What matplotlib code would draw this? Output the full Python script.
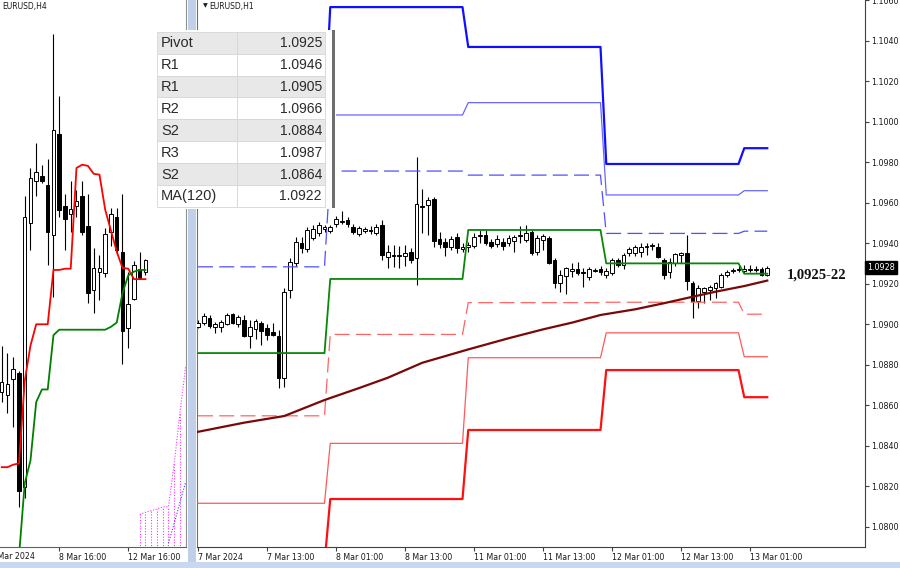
import numpy as np
import matplotlib
matplotlib.use('Agg')
import matplotlib.pyplot as plt
import matplotlib.transforms as mtransforms
from matplotlib.patches import Rectangle

# ---- H1 candles (EURUSD, 7 Mar 01:00 -> 13 Mar 04:00)
h1_open = [
    1.08987, 1.09006, 1.09031, 1.08987, 1.08987, 1.09002, 1.09051, 1.09002, 1.09021, 1.08942,
    1.08977, 1.09006, 1.08982, 1.08962, 1.08942, 1.08735, 1.09169, 1.09303, 1.09402, 1.09372,
    1.09426, 1.09451, 1.09469, 1.09461, 1.09495, 1.09505, 1.09515, 1.09481, 1.09446, 1.09461,
    1.09466, 1.09451, 1.09491, 1.09332, 1.09342, 1.09337, 1.09337, 1.09357, 1.09327, 1.09579,
    1.09589, 1.09619, 1.09422, 1.09407, 1.09382, 1.09431, 1.09372, 1.09382, 1.09387, 1.09436,
    1.09441, 1.09407, 1.09397, 1.09407, 1.09402, 1.09412, 1.09436, 1.09416, 1.09456, 1.09357,
    1.09416, 1.09426, 1.09318, 1.09204, 1.09238, 1.09263, 1.09273, 1.09258, 1.09233, 1.09263,
    1.09273, 1.09243, 1.09253, 1.09318, 1.09293, 1.09352, 1.09352, 1.09357, 1.09382, 1.09387,
    1.09382, 1.09318, 1.09258, 1.09303, 1.09342, 1.09352, 1.09204, 1.09115, 1.09159, 1.09169,
    1.09179, 1.09184, 1.09243, 1.09263, 1.09268, 1.09263, 1.09268, 1.09268, 1.09273, 1.09243]
h1_high = [
    1.09021, 1.09056, 1.09046, 1.09011, 1.09021, 1.09056, 1.09056, 1.09046, 1.09046, 1.09021,
    1.09026, 1.09016, 1.09002, 1.09006, 1.08972, 1.09179, 1.09327, 1.09431, 1.09431, 1.09481,
    1.09491, 1.09505, 1.09491, 1.09491, 1.09535, 1.09560, 1.09530, 1.09495, 1.09486, 1.09481,
    1.09486, 1.09495, 1.09515, 1.09392, 1.09392, 1.09387, 1.09392, 1.09377, 1.09826, 1.09668,
    1.09629, 1.09629, 1.09456, 1.09426, 1.09436, 1.09451, 1.09402, 1.09407, 1.09451, 1.09466,
    1.09466, 1.09422, 1.09441, 1.09426, 1.09441, 1.09441, 1.09486, 1.09491, 1.09466, 1.09441,
    1.09446, 1.09436, 1.09327, 1.09268, 1.09283, 1.09303, 1.09308, 1.09278, 1.09283, 1.09278,
    1.09288, 1.09278, 1.09327, 1.09327, 1.09352, 1.09382, 1.09392, 1.09402, 1.09402, 1.09402,
    1.09402, 1.09327, 1.09327, 1.09352, 1.09357, 1.09441, 1.09214, 1.09194, 1.09184, 1.09194,
    1.09209, 1.09253, 1.09268, 1.09278, 1.09288, 1.09293, 1.09293, 1.09288, 1.09283, 1.09288]
h1_low = [
    1.08982, 1.08997, 1.08982, 1.08957, 1.08962, 1.08997, 1.09002, 1.08987, 1.08937, 1.08883,
    1.08927, 1.08898, 1.08922, 1.08942, 1.08685, 1.08690, 1.09130, 1.09288, 1.09352, 1.09357,
    1.09416, 1.09436, 1.09456, 1.09451, 1.09481, 1.09495, 1.09481, 1.09446, 1.09436, 1.09451,
    1.09446, 1.09441, 1.09318, 1.09278, 1.09283, 1.09278, 1.09288, 1.09303, 1.09194, 1.09451,
    1.09441, 1.09382, 1.09377, 1.09337, 1.09367, 1.09352, 1.09357, 1.09357, 1.09377, 1.09402,
    1.09392, 1.09377, 1.09382, 1.09367, 1.09387, 1.09357, 1.09402, 1.09407, 1.09342, 1.09342,
    1.09367, 1.09298, 1.09179, 1.09159, 1.09149, 1.09233, 1.09243, 1.09184, 1.09219, 1.09258,
    1.09243, 1.09229, 1.09243, 1.09283, 1.09273, 1.09337, 1.09337, 1.09332, 1.09342, 1.09367,
    1.09327, 1.09224, 1.09229, 1.09288, 1.09303, 1.09169, 1.09031, 1.09080, 1.09105, 1.09120,
    1.09130, 1.09179, 1.09233, 1.09253, 1.09258, 1.09253, 1.09258, 1.09258, 1.09238, 1.09238]
h1_close = [
    1.09006, 1.09041, 1.08992, 1.09002, 1.09011, 1.09046, 1.09006, 1.09036, 1.08942, 1.08987,
    1.09016, 1.08967, 1.08947, 1.08947, 1.08735, 1.09159, 1.09308, 1.09407, 1.09377, 1.09466,
    1.09471, 1.09491, 1.09481, 1.09481, 1.09520, 1.09510, 1.09495, 1.09456, 1.09476, 1.09471,
    1.09461, 1.09481, 1.09342, 1.09357, 1.09337, 1.09342, 1.09352, 1.09318, 1.09594, 1.09584,
    1.09614, 1.09412, 1.09397, 1.09382, 1.09422, 1.09377, 1.09382, 1.09392, 1.09431, 1.09441,
    1.09402, 1.09387, 1.09422, 1.09387, 1.09426, 1.09431, 1.09441, 1.09451, 1.09352, 1.09426,
    1.09436, 1.09303, 1.09204, 1.09243, 1.09278, 1.09273, 1.09253, 1.09253, 1.09273, 1.09268,
    1.09258, 1.09263, 1.09318, 1.09293, 1.09342, 1.09372, 1.09382, 1.09382, 1.09387, 1.09392,
    1.09332, 1.09243, 1.09308, 1.09347, 1.09352, 1.09214, 1.09115, 1.09179, 1.09179, 1.09184,
    1.09204, 1.09243, 1.09258, 1.09268, 1.09273, 1.09273, 1.09273, 1.09273, 1.09243, 1.09280]

# ---- daily pivot levels (7, 8, 11, 12, 13 Mar) and H1 bars per day
day_bars = [23, 24, 24, 24, 5]
r3 = [1.1001, 1.10567, 1.10370, 1.09792, 1.0987]
r2 = [1.0961, 1.10034, 1.10095, 1.09639, 1.0966]
r1 = [1.09284, 1.09757, 1.09737, 1.09449, 1.0946]
pivot = [1.08858, 1.09224, 1.09466, 1.09301, 1.0925]
s1 = [1.08548, 1.08950, 1.09107, 1.09109, 1.0905]
s2 = [1.08116, 1.08412, 1.08835, 1.08958, 1.0884]
s3 = [1.0782, 1.08137, 1.08478, 1.08774, 1.0864]

# ---- MA(120) read at some bars
ma_bar = [0, 8, 15, 22, 28, 33, 39, 47, 54, 60, 65, 70, 76, 81, 86, 90, 95, 99]
ma_val = [1.08469, 1.08514, 1.08547, 1.08626, 1.08685, 1.08736, 1.08810, 1.08876, 1.08931,
          1.08975, 1.09008, 1.09046, 1.09074, 1.09104, 1.09136, 1.09161, 1.09189, 1.09216]

price_ticks = [1.0800, 1.0820, 1.0840, 1.0860, 1.0880, 1.0900, 1.0920, 1.0940,
               1.0960, 1.0980, 1.1000, 1.1020, 1.1040, 1.1060]
h1_tick_bar = [0, 12, 24, 36, 48, 60, 72, 84, 96]
h1_tick_labels = ['7 Mar 2024', '7 Mar 13:00', '8 Mar 01:00', '8 Mar 13:00', '11 Mar 01:00',
                  '11 Mar 13:00', '12 Mar 01:00', '12 Mar 13:00', '13 Mar 01:00']

# ---- H4 candles (7 Mar 00:00 -> 13 Mar 04:00)
h4_open = [1.08964, 1.08957, 1.08996, 1.09009, 1.08736, 1.09369, 1.09469, 1.09480, 1.09460,
           1.09339, 1.09581, 1.09408, 1.09389, 1.09408, 1.09434, 1.09360, 1.09209, 1.09250,
           1.09248, 1.09347, 1.09382, 1.09300, 1.09118, 1.09187, 1.09259, 1.09250]
h4_high = [1.09074, 1.09057, 1.09048, 1.09015, 1.09434, 1.09499, 1.09560, 1.09508, 1.09521,
           1.09820, 1.09672, 1.09438, 1.09469, 1.09447, 1.09469, 1.09438, 1.09308, 1.09291,
           1.09356, 1.09404, 1.09404, 1.09438, 1.09252, 1.09278, 1.09300, 1.09282]
h4_low = [1.08940, 1.08914, 1.08879, 1.08689, 1.08710, 1.09304, 1.09434, 1.09464, 1.09269,
          1.09191, 1.09382, 1.09304, 1.09347, 1.09382, 1.09340, 1.09178, 1.09152, 1.09183,
          1.09239, 1.09313, 1.09295, 1.09031, 1.09070, 1.09183, 1.09234, 1.09243]
h4_close = [1.08988, 1.08983, 1.09018, 1.08728, 1.09382, 1.09477, 1.09490, 1.09469, 1.09347,
            1.09590, 1.09399, 1.09378, 1.09401, 1.09421, 1.09347, 1.09200, 1.09261, 1.09261,
            1.09343, 1.09391, 1.09304, 1.09109, 1.09174, 1.09269, 1.09236, 1.09281]
tenkan = [1.08784, 1.08784, 1.08790, 1.08793, 1.08990, 1.09075, 1.09126, 1.09126, 1.09126,
          1.09256, 1.09256, 1.09259, 1.09259, 1.09500, 1.09508, 1.09505, 1.09486, 1.09484,
          1.09400, 1.09350, 1.09300, 1.09261, 1.09259, 1.09234, 1.09234, 1.09234]
kijun_bar = list(range(2, 26))
kijun = [1.0850, 1.0857, 1.08745, 1.0880, 1.0894, 1.08970, 1.08970, 1.09100, 1.09113, 1.09113,
         1.09113, 1.09113, 1.09113, 1.09113, 1.09113, 1.09113, 1.09113, 1.09120, 1.09130,
         1.09200, 1.09243, 1.09252, 1.09256, 1.09256]
cloud_bar = [24, 25, 26, 27, 28, 29, 30, 31, 32]
span_a = [1.08671, 1.08676, 1.08680, 1.08684, 1.08689, 1.08689, 1.08793, 1.08914, 1.09027]
span_b = [1.0855, 1.0855, 1.0855, 1.0855, 1.0855, 1.0855, 1.0855, 1.0855, 1.0855]
blue_bar = [29, 30, 31, 32]
blue_span = [1.08602, 1.08650, 1.08700, 1.08749]
h4_tick_bar = [10, 22]
h4_tick_labels = ['8 Mar 16:00', '12 Mar 16:00']

table_labels = ['Pivot', 'R1', 'R1', 'R2', 'S2', 'R3', 'S2', 'MA(120)']
table_values = ['1.0925', '1.0946', '1.0905', '1.0966', '1.0884', '1.0987', '1.0864', '1.0922']

W, H = 900, 568
TXT = '#1a1a1a'
fig = plt.figure(figsize=(9, 5.68), dpi=100)


def fx(x):
    return x / W


def fy(y):
    return 1 - y / H


def draw_candles(ax, o, h, l, c, width):
    o, h, l, c = map(np.asarray, (o, h, l, c))
    x = np.arange(len(o))
    ax.vlines(x, l, h, color='black', lw=0.8, zorder=2)
    up = c >= o
    body = np.maximum(np.abs(c - o), 0.00002)
    bottom = np.minimum(o, c)
    ax.bar(x[up], body[up], bottom=bottom[up], width=width, facecolor='white',
           edgecolor='black', lw=0.7, zorder=3)
    ax.bar(x[~up], body[~up], bottom=bottom[~up], width=width, facecolor='black',
           edgecolor='black', lw=0.7, zorder=3)


# window frame decorations
fig.add_artist(Rectangle((fx(188), 0), fx(8), 1, transform=fig.transFigure,
                         fc='#BFD0E8', ec='none', zorder=0))
fig.add_artist(Rectangle((0, 0), 1, 6 / H, transform=fig.transFigure,
                         fc='#C8D8EE', ec='none', zorder=0))

# ---------------- H4 window
ax4 = fig.add_axes([0, fy(547), fx(186), 547 / H])
draw_candles(ax4, h4_open, h4_high, h4_low, h4_close, 0.6)
ax4.plot(np.arange(len(tenkan)), tenkan, color='#FF0000', lw=1.3, zorder=4)
ax4.plot(kijun_bar, kijun, color='#008000', lw=1.3, zorder=4)
ax4.vlines(cloud_bar, span_b, span_a, color='#FF33FF', lw=0.8, linestyles=(0, (1, 1.5)), zorder=1)
ax4.plot(cloud_bar, span_a, color='#FF33FF', lw=0.8, ls=(0, (1, 1.5)), zorder=1)
ax4.plot(blue_bar, blue_span, color='#3344FF', lw=0.8, ls=(0, (1, 1.5)), zorder=1)
ax4.set_xlim(-0.3, 32.05)
ax4.set_ylim(1.08593, 1.09902)
ax4.set_yticks([])
ax4.set_xticks(h4_tick_bar)
ax4.set_xticklabels(h4_tick_labels, ha='left', fontsize=5.7, color=TXT)
ax4.tick_params(axis='x', length=3, pad=1.5, color='#404040')
ax4.text(-2.0, -5.2 / 547, '7 Mar 2024',
         transform=mtransforms.blended_transform_factory(ax4.transData, ax4.transAxes),
         ha='left', va='top', fontsize=5.7, color=TXT, clip_on=False)
for s in ['top', 'left']:
    ax4.spines[s].set_visible(False)
ax4.spines['bottom'].set_color('#606060')
ax4.spines['right'].set_color('#909090')
ax4.text(0.01, 0.989, 'EURUSD,H4', transform=ax4.transAxes, fontsize=5.5, color=TXT, va='center')

# ---------------- H1 window
ax1 = fig.add_axes([fx(197), fy(547), fx(865 - 197), 547 / H])
draw_candles(ax1, h1_open, h1_high, h1_low, h1_close, 0.62)
xi = np.arange(len(h1_open))


def expand(levels):
    return np.repeat(levels, day_bars)


ax1.plot(xi, expand(r3), color='#1010FF', lw=1.6, zorder=4)
ax1.plot(xi, expand(r2), color='#6666FF', lw=0.9, zorder=4)
ax1.plot(xi, expand(r1), color='#5050FF', lw=0.9, ls=(0, (12, 5)), zorder=4)
ax1.plot(xi, expand(pivot), color='#088808', lw=1.3, zorder=4)
ax1.plot(xi, expand(s1), color='#FF6464', lw=0.9, ls=(0, (12, 5)), zorder=4)
ax1.plot(xi, expand(s2), color='#FF5A5A', lw=0.9, zorder=4)
ax1.plot(xi, expand(s3), color='#FF1010', lw=1.6, zorder=4)
ax1.plot(ma_bar, ma_val, color='#7A0808', lw=1.6, zorder=4)

ax1.set_xlim(-0.174, 116.0)
ax1.set_ylim(1.07900, 1.10602)
ax1.yaxis.tick_right()
ax1.set_yticks(price_ticks)
ax1.set_yticklabels(['%.4f' % p for p in price_ticks], fontsize=5.8, color=TXT)
ax1.tick_params(axis='y', length=3, pad=1.5, color='#404040')
ax1.set_xticks(h1_tick_bar)
ax1.set_xticklabels(h1_tick_labels, ha='left', fontsize=5.7, color=TXT)
ax1.tick_params(axis='x', length=3, pad=1.5, color='#404040')
ax1.spines['top'].set_visible(False)
ax1.spines['left'].set_color('#707070')
ax1.spines['right'].set_color('#404040')
ax1.spines['bottom'].set_color('#404040')

ax1.text(1.003, h1_close[-1], '%.4f' % h1_close[-1],
         transform=mtransforms.blended_transform_factory(ax1.transAxes, ax1.transData),
         color='white', fontsize=5.8, va='center', ha='left', clip_on=False, zorder=6,
         bbox=dict(boxstyle='square,pad=0.25', fc='black', ec='black'))
ax1.text(102.4, 1.09243, '1,0925-22', family='Liberation Serif', fontweight='bold',
         fontsize=10.5, va='center', ha='left', color='#111111')
ax1.text(0.009, 0.989, '\u25bc', transform=ax1.transAxes, fontsize=4.5, color=TXT, va='center')
ax1.text(0.019, 0.989, 'EURUSD,H1', transform=ax1.transAxes, fontsize=5.5, color=TXT, va='center')

# ---------------- levels table overlay
tab = fig.add_axes([fx(155), fy(209), fx(336 - 155), (209 - 30) / H], zorder=10)
tab.set_xlim(155, 336)
tab.set_ylim(209, 30)
tab.axis('off')
tab.add_patch(Rectangle((155, 30), 181, 179, fc='white', ec='none'))
row_top, row_h = 31.7, 21.9
for k, (lab, val) in enumerate(zip(table_labels, table_values)):
    y0 = row_top + k * row_h
    fc = '#E8E8E8' if k % 2 == 0 else 'white'
    tab.add_patch(Rectangle((157, y0), 79.7, row_h, fc=fc, ec='#D6D6D6', lw=0.6))
    tab.add_patch(Rectangle((236.7, y0), 88.5, row_h, fc=fc, ec='#D6D6D6', lw=0.6))
    tab.text(161, y0 + row_h / 2 + 0.5, lab, family='Liberation Sans', fontsize=10.5,
             color='#2a2a2a', va='center', ha='left')
    tab.text(322, y0 + row_h / 2 + 0.5, val, family='Liberation Sans', fontsize=10,
             color='#2a2a2a', va='center', ha='right')
tab.add_patch(Rectangle((332, 30), 3.2, 178, fc='#6E6E6E', ec='none'))

fig.savefig('out.png', dpi=100)
